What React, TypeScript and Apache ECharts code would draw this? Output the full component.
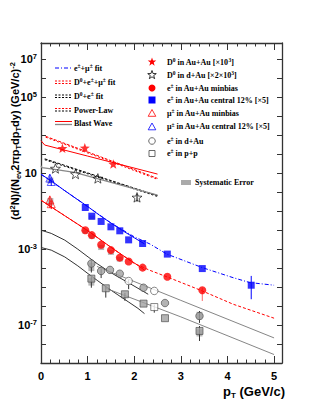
import React, { useEffect, useRef } from 'react';
import * as echarts from 'echarts';

// ---------- axis ----------
const xMin = 0;
const xMax = 5.17;
const yMin = 1e-9;
const yMax = 7.4e7;
const yLabelExps = [7, 5, 1, -3, -7];

// ---------- data points ----------
const d0AuAuPt = [0.46, 0.94, 1.55];
const d0AuAuVal = [210, 220, 31];
const d0dAuPt = [0.31, 0.74, 1.22, 2.06];
const d0dAuVal = [18, 9.2, 5.4, 0.54];
const eMinPt = [0.95, 1.09, 1.29, 1.5, 1.69, 1.88, 2.18, 2.71, 3.46];
const eMinVal = [0.01, 0.0055, 0.0017, 8.9e-4, 3.6e-4, 2.24e-4, 1.07e-4, 3.5e-5, 6.9e-6];
const eCenPt = [0.95, 1.09, 1.29, 1.5, 1.69, 1.88, 2.18, 2.71, 3.46, 4.51];
const eCenVal = [0.158, 0.055, 0.029, 0.0151, 0.0093, 0.0031, 0.002, 5.5e-4, 9.5e-5, 1.26e-5];
const muMinPt = [0.19, 0.22];
const muMinVal = [0.4, 0.25];
const muCenPt = [0.19, 0.22];
const muCenVal = [5.6, 3.7];
const eDAuPt = [1.08, 1.29, 1.48, 1.69, 1.88, 2.2, 2.43, 2.66, 3.4];
const eDAuVal = [1.74e-4, 7.1e-5, 8.1e-5, 5.1e-5, 2.1e-5, 9.3e-6, 6.3e-6, 1.45e-6, 3.0e-7];
const eDAuOpen = [false, false, false, false, true, false, true, false, false];
const ePPPt = [1.08, 1.39, 1.8, 2.2, 2.43, 2.66, 3.4];
const ePPVal = [2.8e-5, 8.7e-6, 4.2e-6, 1.35e-6, 8.9e-7, 2.3e-7, 4.9e-8];
const ePPOpen = [false, false, false, false, true, false, false];

// ---------- error bars [pT, low, high] ----------
const errD0dAu = [[2.06, 0.32, 0.81]];
const errMuCen = [[0.19, 3.0, 8.5], [0.22, 2.2, 5.0]];
const errMuMin = [[0.19, 0.15, 0.6], [0.22, 0.13, 0.35]];
const errECen = [[4.51, 2.3e-6, 3.9e-5]];
const errEMin = [[3.46, 1.86e-6, 9.3e-6]];
const errDAu = [[1.08, 5.9e-5, 2.5e-4], [1.29, 3.0e-5, 9e-5], [1.88, 7.8e-6, 2.5e-5], [3.4, 1.3e-7, 5.5e-7]];
const errPP = [[1.08, 9.3e-6, 3.5e-5], [1.39, 2.8e-6, 1.1e-5], [1.8, 1.9e-6, 5e-6], [2.43, 4.5e-7, 1.2e-6], [3.4, 1.45e-8, 8.9e-8]];
const sysBoxes = [
  [0.2, 0.2, 0.5], [0.2, 3.0, 6.0], [1.09, 0.035, 0.06], [0.95, 0.0065, 0.011], [1.09, 0.0035, 0.006],
  [1.29, 0.0009, 0.0017], [1.5, 0.0005, 0.0009], [1.69, 0.00022, 0.0004], [1.08, 7e-5, 1.9e-4],
  [1.08, 1.2e-5, 3e-5], [3.4, 2e-7, 5e-7], [3.4, 2.5e-8, 6e-8],
];

// ---------- curves [pT, value] ----------
const d0AuAuPowerLaw = [[0.1, 891], [1.3, 71], [2.5, 5.4]];
const d0AuAuComboFit = [[0.1, 800], [1.3, 63], [2.5, 4.8]];
const d0AuAuBlastWave = [[0, 525], [0.08, 309], [1.0, 81], [2.5, 9.1]];
const d0dAuPowerLaw = [[0.08, 58], [1.3, 6.0], [2.5, 0.66]];
const d0dAuComboFit = [[0.08, 52], [1.3, 5.4], [2.5, 0.6]];
const d0dAuBlastWave = [[0, 25], [0.02, 20], [0.22, 17], [0.72, 11.2], [2.5, 0.71]];
const cenBlastWave = [[0, 8.9], [0.25, 3.55], [0.5, 1.26], [0.75, 0.47], [1.0, 0.178], [1.25, 0.063], [1.5, 0.024], [1.75, 0.0095], [2.0, 0.004], [2.22, 0.0019]];
const cenFit = [[0, 8.9], [0.5, 1.26], [1.0, 0.178], [1.5, 0.024], [2.0, 0.0045], [2.34, 0.00186], [2.7, 5.5e-4], [3.46, 1.07e-4], [4.12, 3.16e-5], [4.48, 1.74e-5], [5.0, 1.26e-5]];
const minBlastWave = [[0, 0.38], [0.25, 0.151], [0.5, 0.06], [0.75, 0.024], [1.0, 0.0095], [1.25, 0.0035], [1.5, 0.00126], [1.75, 4.8e-4], [2.0, 1.9e-4], [2.22, 7.9e-5]];
const minFit = [[0, 0.38], [0.5, 0.06], [1.0, 0.0095], [1.5, 0.00126], [2.0, 1.78e-4], [2.34, 7.6e-5], [2.7, 3.5e-5], [3.46, 6.3e-6], [4.12, 1.26e-6], [5.0, 2.3e-7]];
const dAuBlastWave = [[0, 0.01], [0.22, 0.0068], [0.51, 0.003], [0.79, 0.001], [1.01, 3.9e-4], [1.22, 1.62e-4], [1.44, 7.1e-5], [1.65, 3.5e-5], [1.87, 1.74e-5], [2.08, 8.7e-6], [2.3, 4.2e-6]];
const ppBlastWave = [[0, 0.00123], [0.22, 8.9e-4], [0.51, 3.9e-4], [0.79, 1.32e-4], [1.01, 5.1e-5], [1.22, 2.14e-5], [1.44, 8.7e-6], [1.65, 3.9e-6], [1.87, 1.7e-6], [2.08, 7.6e-7], [2.22, 4.0e-7]];
const dAuPowerLaw = [[1.2, 1.23e-4], [3.0, 2.0e-6], [5.0, 2.1e-8]];
const ppPowerLaw = [[1.4, 8.5e-6], [3.0, 2.7e-7], [5.0, 2.8e-9]];

// ---------- styling ----------
const RED = '#ff0000';
const BLUE = '#0000ff';
const AX = '#333333';
const SANS = 'Liberation Sans';
const SERIF = 'Liberation Serif';
const STAR = 'path://M12,0.5 L14.9,8.6 L23.5,8.9 L16.7,14.2 L19.1,22.5 L12,17.6 L4.9,22.5 L7.3,14.2 L0.5,8.9 L9.1,8.6 Z';

const zip = (xs: number[], ys: number[]) => xs.map((x, i) => [x, ys[i]]);

const lineSeries = (data: number[][], color: string, type: any, width = 1, z = 3) => ({
  type: 'line', data, showSymbol: false, symbol: 'none', silent: true, z,
  lineStyle: { color, width, type },
});

const errSeries = (data: number[][], color: string) => ({
  type: 'custom', data, silent: true, z: 4,
  encode: { x: 0, y: [1, 2] },
  renderItem: (_p: any, api: any) => {
    const x = api.value(0);
    const a = api.coord([x, api.value(1)]);
    const b = api.coord([x, api.value(2)]);
    return { type: 'line', shape: { x1: a[0], y1: a[1], x2: b[0], y2: b[1] }, style: { stroke: color, lineWidth: 1 } };
  },
});

const sysSeries = (data: number[][]) => ({
  type: 'custom', data, silent: true, z: 2,
  encode: { x: 0, y: [1, 2] },
  renderItem: (_p: any, api: any) => {
    const x = api.value(0);
    const a = api.coord([x, api.value(1)]);
    const b = api.coord([x, api.value(2)]);
    return { type: 'rect', shape: { x: a[0] - 3, y: b[1], width: 6, height: a[1] - b[1] }, style: { fill: '#b8b8b8' } };
  },
});

const richLeg: any = {
  n: { fontSize: 8, fontWeight: 'bold', fontFamily: SERIF, fill: '#000', lineHeight: 10 },
  s: { fontSize: 5.5, fontWeight: 'bold', fontFamily: SERIF, fill: '#000', lineHeight: 6, verticalAlign: 'top' },
};
const legText = (x: number, y: number, text: string) => ({
  type: 'text', x, y, z: 100, style: { text, rich: richLeg, align: 'left', verticalAlign: 'middle' },
});
const legLine = (x1: number, x2: number, y: number, color: string, dash: any, width = 1) => ({
  type: 'line', z: 100, shape: { x1, y1: y, x2, y2: y }, style: { stroke: color, lineWidth: width, lineDash: dash },
});
const starPts = (cx: number, cy: number, r: number) => {
  const pts: number[][] = [];
  for (let i = 0; i < 10; i++) {
    const a = -Math.PI / 2 + (i * Math.PI) / 5;
    const rr = i % 2 === 0 ? r : r * 0.4;
    pts.push([cx + rr * Math.cos(a), cy + rr * Math.sin(a)]);
  }
  return pts;
};
const triPts = (cx: number, cy: number, r: number) => [[cx, cy - r], [cx + r * 0.95, cy + r * 0.7], [cx - r * 0.95, cy + r * 0.7]];

const LX1 = 55, LX2 = 72, LTX = 74;
const RMX = 152, RTX = 167;

const graphics: any[] = [
  // left legend
  legLine(LX1, LX2, 68, BLUE, [4, 2, 1, 2]),
  legText(LTX, 68, '{n|e}{s|±}{n|+μ}{s|±}{n| fit}'),
  legLine(LX1, LX2, 81, RED, [2, 1.5]),
  legLine(LX1, LX2, 83.5, RED, [2, 1.5]),
  legText(LTX, 82, '{n|D}{s|0}{n|+e}{s|±}{n|+μ}{s|±}{n| fit}'),
  legLine(LX1, LX2, 95, '#000', [2, 1.5]),
  legLine(LX1, LX2, 97.5, '#000', [2, 1.5]),
  legText(LTX, 96, '{n|D}{s|0}{n|+e}{s|±}{n| fit}'),
  legLine(LX1, LX2, 108.5, RED, [2, 1.5]),
  legLine(LX1, LX2, 111, '#000', [2, 1.5]),
  legText(LTX, 110, '{n|Power-Law}'),
  legLine(LX1, LX2, 121.5, RED, null),
  legLine(LX1, LX2, 124.5, '#888', null, 1.3),
  legText(LTX, 123, '{n|Blast Wave}'),
  // right legend
  { type: 'polygon', z: 100, shape: { points: starPts(RMX, 62, 4.5) }, style: { fill: RED } },
  legText(RTX, 62, '{n|D}{s|0}{n| in Au+Au [×10}{s|3}{n|]}'),
  { type: 'polygon', z: 100, shape: { points: starPts(RMX, 75, 4.5) }, style: { fill: 'none', stroke: '#000', lineWidth: 0.8 } },
  legText(RTX, 75, '{n|D}{s|0}{n| in d+Au [×2×10}{s|3}{n|]}'),
  { type: 'circle', z: 100, shape: { cx: RMX, cy: 88, r: 3.5 }, style: { fill: RED } },
  legText(RTX, 88, '{n|e}{s|±}{n| in Au+Au minbias}'),
  { type: 'rect', z: 100, shape: { x: RMX - 3.5, y: 96.5, width: 7, height: 7 }, style: { fill: BLUE } },
  legText(RTX, 100, '{n|e}{s|±}{n| in Au+Au central 12% [×5]}'),
  { type: 'polygon', z: 100, shape: { points: triPts(RMX, 113.5, 4) }, style: { fill: 'none', stroke: RED, lineWidth: 0.8 } },
  legText(RTX, 113, '{n|μ}{s|±}{n| in Au+Au minbias}'),
  { type: 'polygon', z: 100, shape: { points: triPts(RMX, 127, 4) }, style: { fill: 'none', stroke: BLUE, lineWidth: 0.8 } },
  legText(RTX, 126.5, '{n|μ}{s|±}{n| in Au+Au central 12% [×5]}'),
  { type: 'circle', z: 100, shape: { cx: RMX, cy: 141, r: 3.3 }, style: { fill: 'none', stroke: '#444', lineWidth: 0.8 } },
  legText(RTX, 141, '{n|e}{s|±}{n| in d+Au}'),
  { type: 'rect', z: 100, shape: { x: RMX - 3, y: 150.5, width: 6, height: 6 }, style: { fill: 'none', stroke: '#444', lineWidth: 0.8 } },
  legText(RTX, 153, '{n|e}{s|±}{n| in p+p}'),
  { type: 'rect', z: 100, shape: { x: 181, y: 180, width: 10, height: 5 }, style: { fill: '#aaa' } },
  legText(195, 182.5, '{n|Systematic Error}'),
  // axis titles
  {
    type: 'text', x: 15, y: 141, rotation: Math.PI / 2, z: 100,
    style: {
      text: '{n|(d}{s|2}{n|N)/(N}{b|ev}{n|2πp}{b|T}{n|dp}{b|T}{n|dy) (GeV/c)}{s|-2}',
      align: 'center', verticalAlign: 'middle',
      rich: {
        n: { fontSize: 11, fontWeight: 'bold', fontFamily: SANS, fill: '#000', lineHeight: 14 },
        s: { fontSize: 7.5, fontWeight: 'bold', fontFamily: SANS, fill: '#000', lineHeight: 8, verticalAlign: 'top' },
        b: { fontSize: 7.5, fontWeight: 'bold', fontFamily: SANS, fill: '#000', lineHeight: 8, verticalAlign: 'bottom' },
      },
    },
  },
  {
    type: 'text', x: 285, y: 391, z: 100,
    style: {
      text: '{n|p}{b|T}{n| (GeV/c)}', align: 'right', verticalAlign: 'middle',
      rich: {
        n: { fontSize: 13, fontWeight: 'bold', fontFamily: SANS, fill: '#000', lineHeight: 16 },
        b: { fontSize: 8, fontWeight: 'bold', fontFamily: SANS, fill: '#000', lineHeight: 9, verticalAlign: 'bottom' },
      },
    },
  },
];

const xAxisBase = (pos: string, labels: boolean) => ({
  type: 'value', min: xMin, max: xMax, interval: 1, position: pos,
  axisLine: { onZero: false, lineStyle: { color: AX, width: 1.3 } },
  axisTick: { inside: true, length: 7, lineStyle: { color: AX } },
  minorTick: { show: true, splitNumber: 5, length: 3.5, lineStyle: { color: AX } },
  splitLine: { show: false },
  axisLabel: labels
    ? { show: true, margin: 7, formatter: (v: number) => (Math.abs(v - Math.round(v)) < 1e-6 ? String(Math.round(v)) : ''), fontSize: 11, fontWeight: 'bold', fontFamily: SANS, color: '#000' }
    : { show: false },
});

const yLabel = (v: number) => {
  const l = Math.log10(v);
  const e = Math.round(l);
  if (Math.abs(l - e) > 0.01 || !yLabelExps.includes(e)) return '';
  return e === 1 ? '{n|10}' : '{n|10}{s|' + e + '}';
};

const yAxisBase = (pos: string, labels: boolean) => ({
  type: 'log', logBase: 10, min: yMin, max: yMax, interval: 1, position: pos,
  axisLine: { onZero: false, lineStyle: { color: AX, width: 1.3 } },
  axisTick: { inside: true, length: 5, lineStyle: { color: AX } },
  minorTick: { show: false },
  splitLine: { show: false },
  axisLabel: labels
    ? {
        show: true, margin: 4, showMinLabel: true, showMaxLabel: true, hideOverlap: false,
        formatter: yLabel,
        rich: {
          n: { fontSize: 11, fontWeight: 'bold', fontFamily: SANS, color: '#000', lineHeight: 14 },
          s: { fontSize: 7.5, fontWeight: 'bold', fontFamily: SANS, color: '#000', lineHeight: 8, verticalAlign: 'top' },
        },
      }
    : { show: false },
});

const option: any = {
  animation: false,
  grid: { left: 41, right: 34, top: 43, bottom: 46 },
  xAxis: [xAxisBase('bottom', true), xAxisBase('top', false)],
  yAxis: [yAxisBase('left', true), yAxisBase('right', false)],
  graphic: graphics,
  series: [
    sysSeries(sysBoxes),
    lineSeries(d0AuAuPowerLaw, RED, [3, 1.5]),
    lineSeries(d0AuAuComboFit, RED, [2, 2]),
    lineSeries(d0AuAuBlastWave, RED, 'solid'),
    lineSeries(d0dAuPowerLaw, '#000', [3, 1.5]),
    lineSeries(d0dAuComboFit, '#000', [2, 2]),
    lineSeries(d0dAuBlastWave, '#888', 'solid', 1.3),
    lineSeries(cenBlastWave, BLUE, 'solid'),
    lineSeries(cenFit, BLUE, [4, 2, 1, 2]),
    lineSeries(minBlastWave, RED, 'solid'),
    lineSeries(minFit, RED, [3, 2]),
    lineSeries(dAuBlastWave, '#333', 'solid'),
    lineSeries(ppBlastWave, '#333', 'solid'),
    lineSeries(dAuPowerLaw, '#777', 'solid', 0.9),
    lineSeries(ppPowerLaw, '#777', 'solid', 0.9),
    errSeries(errD0dAu, '#000'),
    errSeries(errMuCen, BLUE),
    errSeries(errMuMin, RED),
    errSeries(errECen, BLUE),
    errSeries(errEMin, '#ff6666'),
    errSeries(errDAu, '#333'),
    errSeries(errPP, '#333'),
    {
      type: 'scatter', data: zip(d0AuAuPt, d0AuAuVal), symbol: STAR, symbolSize: 10, symbolKeepAspect: true, z: 6,
      itemStyle: { color: RED },
    },
    {
      type: 'scatter', data: zip(d0dAuPt, d0dAuVal), symbol: STAR, symbolSize: 10, symbolKeepAspect: true, z: 6,
      itemStyle: { color: 'rgba(0,0,0,0)', borderColor: '#000', borderWidth: 0.8 },
    },
    {
      type: 'scatter', data: zip(eMinPt, eMinVal), symbol: 'circle', symbolSize: 8, z: 6,
      itemStyle: { color: RED },
    },
    {
      type: 'scatter', data: zip(eCenPt, eCenVal), symbol: 'rect', symbolSize: 7, z: 6,
      itemStyle: { color: BLUE },
    },
    {
      type: 'scatter', data: zip(muMinPt, muMinVal), symbol: 'triangle', symbolSize: 8, z: 6,
      itemStyle: { color: 'rgba(0,0,0,0)', borderColor: RED, borderWidth: 0.8 },
    },
    {
      type: 'scatter', data: zip(muCenPt, muCenVal), symbol: 'triangle', symbolSize: 8, z: 6,
      itemStyle: { color: 'rgba(0,0,0,0)', borderColor: BLUE, borderWidth: 0.8 },
    },
    {
      type: 'scatter', symbol: 'circle', symbolSize: 7.5, z: 6,
      data: eDAuPt.map((x, i) => ({ value: [x, eDAuVal[i]], itemStyle: { color: eDAuOpen[i] ? '#fff' : '#a0a0a0' } })),
      itemStyle: { borderColor: '#444', borderWidth: 0.8 },
    },
    {
      type: 'scatter', symbol: 'rect', symbolSize: 7, z: 6,
      data: ePPPt.map((x, i) => ({ value: [x, ePPVal[i]], itemStyle: { color: ePPOpen[i] ? '#fff' : '#a0a0a0' } })),
      itemStyle: { borderColor: '#444', borderWidth: 0.8 },
    },
  ],
};

export default function App() {
  const ref = useRef<HTMLDivElement>(null);
  useEffect(() => {
    const chart = echarts.init(ref.current as HTMLDivElement, null, { renderer: 'svg' });
    chart.setOption(option);
    return () => chart.dispose();
  }, []);
  return <div ref={ref} style={{ position: 'absolute', left: 0, top: 0, width: 316, height: 409, background: '#fff' }} />;
}
